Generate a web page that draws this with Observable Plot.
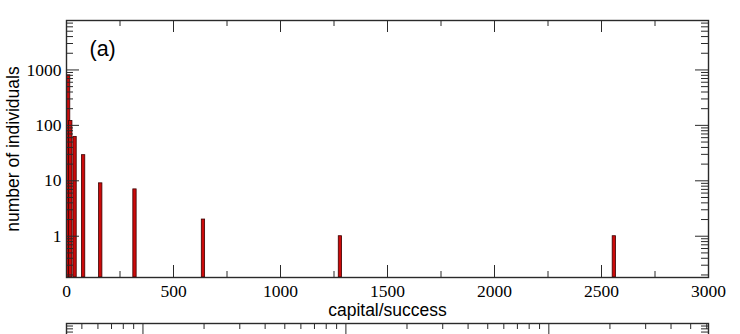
<!DOCTYPE html>
<html>
<head>
<meta charset="utf-8">
<script src="https://cdn.jsdelivr.net/npm/d3@7"></script>
<script src="https://cdn.jsdelivr.net/npm/@observablehq/plot@0.6"></script>
<style>
  html, body { margin: 0; padding: 0; background: #fff; }
  svg { display: block; }
  #b { margin-top: -5px; }
</style>
</head>
<body>
<div id="a"></div>
<div id="b"></div>
<script>
// ---- data (panel a) ----
const capital = [10, 20, 40, 80, 160, 320, 640, 1280, 2560];
const counts  = [800, 120, 62, 29, 9, 7, 2, 1, 1];

// ---- ticks (panel a) ----
const xMajor = [0, 500, 1000, 1500, 2000, 2500, 3000];
const xMinor = [250, 750, 1250, 1750, 2250, 2750];
const yMajor = [1, 10, 100, 1000];
const yMajorLabels = ["1", "10", "100", "1000"];
const yMinor = [0.2, 0.3, 0.4, 0.5, 0.6, 0.7, 0.8, 0.9,
                2, 3, 4, 5, 6, 7, 8, 9,
                20, 30, 40, 50, 60, 70, 80, 90,
                200, 300, 400, 500, 600, 700, 800, 900,
                2000, 3000, 4000, 5000, 6000, 7000];

// ---- ticks (panel b, only its top edge is visible) ----
const bxMajor = [1, 10, 100];
const bxMinor = [0.5, 0.6, 0.7, 0.8, 0.9, 2, 3, 4, 5, 6, 7, 8, 9,
                 20, 30, 40, 50, 60, 70, 80, 90, 200, 300, 400, 500, 600];
const byMinor = [2000, 3000, 4000, 5000, 6000, 7000, 8000, 9000];

const table = capital.map((x, i) => ({x, count: counts[i]}));

const W = 740;
const mA = {top: 20, right: 32, bottom: 47, left: 66};
const HA = 324;
const pw = W - mA.left - mA.right;
const phA = HA - mA.top - mA.bottom;
const yMin = 0.18;
const halfW = 7.75;
const ink = "#2a2a2a";
const serif = "Liberation Serif";
const sans = "Liberation Sans";

const panelA = Plot.plot({
  width: W, height: HA,
  marginTop: mA.top, marginRight: mA.right, marginBottom: mA.bottom, marginLeft: mA.left,
  style: {fontFamily: serif, fontSize: "17.5px", color: "#000", background: "#fff"},
  x: {domain: [0, 3000]},
  y: {type: "log", domain: [yMin, 7800]},
  marks: [
    Plot.rectY(table, {
      x1: d => d.x - halfW, x2: d => d.x + halfW,
      y1: yMin, y2: "count",
      fill: "#cc0a0a", stroke: "#3a0000", strokeWidth: 0.8
    }),
    // inward ticks, bottom & top
    Plot.ruleX(xMajor, {insetTop: phA - 12, stroke: ink}),
    Plot.ruleX(xMinor, {insetTop: phA - 6, stroke: ink}),
    Plot.ruleX(xMajor, {insetBottom: phA - 12, stroke: ink}),
    Plot.ruleX(xMinor, {insetBottom: phA - 6, stroke: ink}),
    // inward ticks, left & right
    Plot.ruleY(yMajor, {insetRight: pw - 13, stroke: ink}),
    Plot.ruleY(yMinor, {insetRight: pw - 7, stroke: ink}),
    Plot.ruleY(yMajor, {insetLeft: pw - 13, stroke: ink}),
    Plot.ruleY(yMinor, {insetLeft: pw - 7, stroke: ink}),
    Plot.frame({stroke: ink, strokeWidth: 1.4}),
    Plot.axisX({ticks: xMajor, tickSize: 0, tickPadding: 7, tickFormat: d => String(d), label: null,
                fontFamily: serif, fontSize: 17.5}),
    Plot.axisY({ticks: yMajor, tickSize: 0, tickPadding: 5,
                tickFormat: d => yMajorLabels[yMajor.indexOf(d)], label: null,
                fontFamily: serif, fontSize: 17.5}),
    Plot.text(["(a)"], {frameAnchor: "top-left", textAnchor: "start", lineAnchor: "top",
                        dx: 23, dy: 20, fontFamily: sans, fontSize: 21.5}),
    Plot.text(["capital/success"], {frameAnchor: "bottom", lineAnchor: "top",
                        dy: 26, fontFamily: sans, fontSize: 17.5}),
    Plot.text(["number of individuals"], {frameAnchor: "left", rotate: -90, textAnchor: "middle",
                        lineAnchor: "middle", dx: -53, fontFamily: sans, fontSize: 17.5})
  ]
});
document.getElementById("a").appendChild(panelA);

// ---- panel b (top edge only) ----
const mB = {top: 4, right: 32, bottom: 35, left: 66};
const HB = 260;
const phB = HB - mB.top - mB.bottom;
const panelB = Plot.plot({
  width: W, height: HB,
  marginTop: mB.top, marginRight: mB.right, marginBottom: mB.bottom, marginLeft: mB.left,
  style: {background: "transparent"},
  x: {type: "log", domain: [0.42, 612], axis: null},
  y: {type: "log", domain: [1, 10000], axis: null},
  marks: [
    Plot.ruleX(bxMajor, {insetBottom: phB - 12, stroke: ink}),
    Plot.ruleX(bxMinor, {insetBottom: phB - 6, stroke: ink}),
    Plot.ruleY(byMinor, {insetRight: pw - 7, stroke: ink}),
    Plot.ruleY(byMinor, {insetLeft: pw - 7, stroke: ink}),
    Plot.frame({stroke: ink, strokeWidth: 1.4})
  ]
});
document.getElementById("b").appendChild(panelB);
</script>
</body>
</html>
